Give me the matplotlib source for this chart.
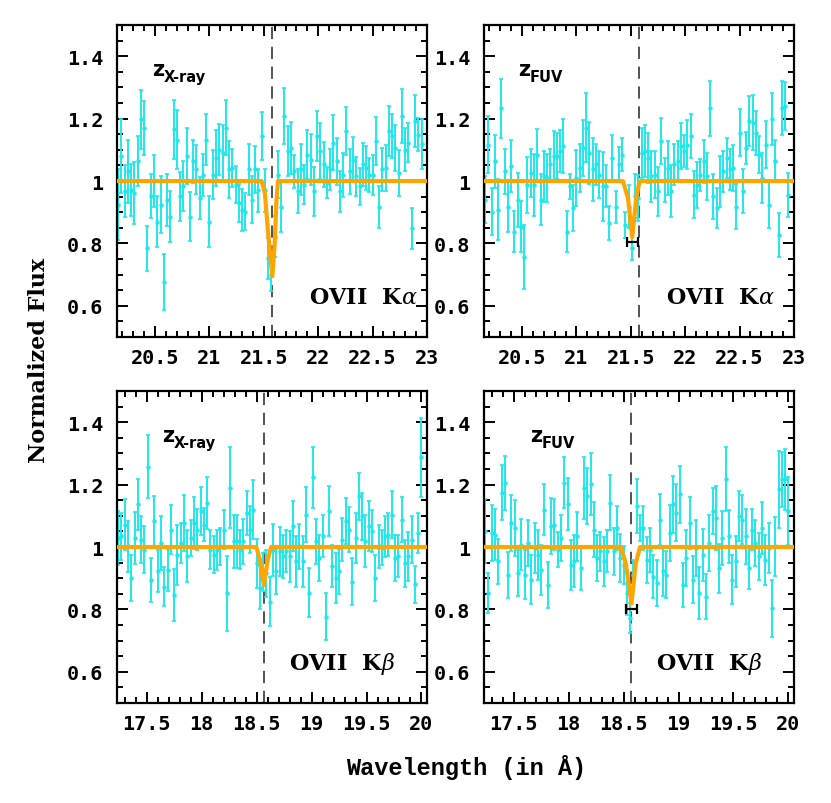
import matplotlib
matplotlib.use("Agg")
import matplotlib.pyplot as plt
from matplotlib.font_manager import FontProperties
from matplotlib.ticker import MultipleLocator, FuncFormatter

# --- data ------------------------------------------------------------------
wave_ka = [20.16, 20.19, 20.22, 20.25, 20.28, 20.31, 20.34, 20.37, 20.40, 20.43,
           20.46, 20.49, 20.52, 20.55, 20.58, 20.61, 20.64, 20.67, 20.70, 20.73,
           20.76, 20.79, 20.82, 20.85, 20.88, 20.91, 20.94, 20.97, 21.00, 21.03,
           21.06, 21.09, 21.12, 21.15, 21.18, 21.21, 21.24, 21.27, 21.30, 21.33,
           21.36, 21.39, 21.42, 21.45, 21.48, 21.51, 21.54, 21.57, 21.60, 21.63,
           21.66, 21.69, 21.72, 21.75, 21.78, 21.81, 21.84, 21.87, 21.90, 21.93,
           21.96, 21.99, 22.02, 22.05, 22.08, 22.11, 22.14, 22.17, 22.20, 22.23,
           22.26, 22.29, 22.32, 22.35, 22.38, 22.41, 22.44, 22.47, 22.50, 22.53,
           22.56, 22.59, 22.62, 22.65, 22.68, 22.71, 22.74, 22.77, 22.80, 22.83,
           22.86, 22.89, 22.92, 22.95]

flux_ka_xray = [0.924, 1.080, 0.967, 1.031, 0.972, 0.961, 1.063, 1.198, 1.171, 0.784,
                0.951, 0.999, 0.870, 0.924, 0.676, 0.940, 0.886, 1.166, 1.133, 0.951,
                0.983, 1.080, 0.886, 1.063, 1.037, 0.945, 1.020, 1.133, 0.870, 1.020,
                1.074, 1.101, 1.090, 1.171, 1.037, 1.042, 0.988, 0.929, 0.908, 0.902,
                1.037, 0.940, 1.037, 0.970, 1.144, 0.970, 0.752, 0.698, 0.822, 1.020,
                0.918, 1.209, 1.096, 1.106, 1.031, 0.967, 1.037, 0.988, 1.085, 1.069,
                0.967, 1.144, 1.096, 1.053, 0.994, 1.037, 1.123, 1.063, 0.967, 1.020,
                1.160, 1.031, 1.069, 1.015, 0.983, 1.053, 1.042, 1.020, 1.020, 1.128,
                0.918, 1.037, 1.042, 1.160, 1.144, 1.106, 1.026, 1.209, 1.101, 1.123,
                0.848, 1.192, 1.149, 1.120]
err_ka_xray = [0.113, 0.118, 0.083, 0.100, 0.083, 0.099, 0.080, 0.094, 0.086, 0.073,
               0.070, 0.083, 0.081, 0.091, 0.091, 0.083, 0.081, 0.094, 0.094, 0.078,
               0.080, 0.091, 0.078, 0.070, 0.078, 0.067, 0.067, 0.083, 0.081, 0.078,
               0.089, 0.083, 0.090, 0.089, 0.091, 0.060, 0.060, 0.060, 0.067, 0.060,
               0.081, 0.075, 0.075, 0.070, 0.078, 0.070, 0.065, 0.050, 0.065, 0.075,
               0.081, 0.089, 0.081, 0.083, 0.054, 0.070, 0.081, 0.062, 0.078, 0.083,
               0.078, 0.081, 0.089, 0.073, 0.050, 0.067, 0.089, 0.075, 0.065, 0.070,
               0.078, 0.073, 0.073, 0.062, 0.059, 0.070, 0.070, 0.054, 0.065, 0.078,
               0.067, 0.070, 0.073, 0.081, 0.070, 0.075, 0.075, 0.086, 0.070, 0.062,
               0.065, 0.083, 0.054, 0.080]

flux_ka_fuv = [0.940, 1.117, 0.902, 1.063, 0.908, 1.233, 1.031, 0.918, 1.047, 0.838,
               0.940, 0.854, 0.757, 0.988, 1.026, 0.988, 1.085, 0.940, 1.015, 1.010,
               1.053, 1.080, 1.080, 1.096, 1.112, 0.838, 0.983, 0.913, 1.010, 1.042,
               1.106, 1.171, 1.090, 1.037, 1.053, 1.020, 0.983, 0.983, 0.865, 1.074,
               0.918, 1.053, 1.085, 0.859, 0.918, 0.784, 0.951, 0.945, 1.090, 1.096,
               1.074, 1.015, 1.020, 0.967, 1.128, 1.004, 1.042, 0.967, 1.053, 1.063,
               1.112, 1.096, 1.117, 1.144, 0.956, 0.988, 1.020, 1.063, 1.015, 1.233,
               0.951, 0.913, 0.999, 1.031, 1.074, 1.037, 1.042, 0.918, 1.155, 0.967,
               1.106, 1.192, 1.187, 1.155, 1.085, 1.010, 1.117, 0.924, 1.198, 1.063,
               0.827, 1.235, 1.241, 0.956]
err_ka_fuv = [0.075, 0.090, 0.075, 0.086, 0.097, 0.094, 0.073, 0.081, 0.083, 0.065,
              0.086, 0.081, 0.102, 0.089, 0.078, 0.099, 0.083, 0.081, 0.081, 0.078,
              0.050, 0.081, 0.073, 0.067, 0.086, 0.065, 0.040, 0.073, 0.090, 0.078,
              0.091, 0.110, 0.100, 0.100, 0.065, 0.075, 0.110, 0.067, 0.054, 0.075,
              0.051, 0.056, 0.054, 0.043, 0.070, 0.038, 0.070, 0.073, 0.081, 0.083,
              0.081, 0.081, 0.075, 0.078, 0.075, 0.070, 0.086, 0.083, 0.065, 0.065,
              0.073, 0.051, 0.078, 0.070, 0.075, 0.073, 0.051, 0.070, 0.075, 0.089,
              0.073, 0.065, 0.081, 0.065, 0.065, 0.067, 0.073, 0.073, 0.075, 0.070,
              0.050, 0.081, 0.089, 0.070, 0.060, 0.081, 0.075, 0.073, 0.083, 0.067,
              0.070, 0.086, 0.078, 0.070]

wave_kb = [17.24, 17.27, 17.30, 17.33, 17.36, 17.39, 17.42, 17.45, 17.48, 17.51,
           17.54, 17.57, 17.60, 17.63, 17.66, 17.69, 17.72, 17.75, 17.78, 17.81,
           17.84, 17.87, 17.90, 17.93, 17.96, 17.99, 18.02, 18.05, 18.08, 18.11,
           18.14, 18.17, 18.20, 18.23, 18.26, 18.29, 18.32, 18.35, 18.38, 18.41,
           18.44, 18.47, 18.50, 18.53, 18.56, 18.59, 18.62, 18.65, 18.68, 18.71,
           18.74, 18.77, 18.80, 18.83, 18.86, 18.89, 18.92, 18.95, 18.98, 19.01,
           19.04, 19.07, 19.10, 19.13, 19.16, 19.19, 19.22, 19.25, 19.28, 19.31,
           19.34, 19.37, 19.40, 19.43, 19.46, 19.49, 19.52, 19.55, 19.58, 19.61,
           19.64, 19.67, 19.70, 19.73, 19.76, 19.79, 19.82, 19.85, 19.88, 19.91,
           19.94, 19.97, 20.00]

flux_kb_xray = [1.029, 1.034, 1.072, 1.002, 0.900, 1.029, 1.137, 1.024, 0.991, 1.258,
                0.895, 1.083, 0.922, 1.013, 0.873, 0.927, 1.056, 0.846, 0.975, 1.013,
                1.077, 0.970, 1.029, 1.077, 1.056, 1.115, 1.072, 1.142, 0.991, 0.975,
                0.991, 1.002, 1.056, 0.852, 1.190, 1.018, 1.018, 0.991, 1.018, 1.110,
                1.056, 1.120, 0.948, 0.870, 0.920, 0.916, 0.825, 0.991, 0.922, 0.986,
                0.970, 0.986, 0.970, 1.067, 0.954, 1.002, 0.954, 1.104, 0.854, 1.223,
                1.018, 0.965, 1.034, 0.776, 1.115, 0.938, 0.900, 0.922, 1.024, 1.083,
                1.056, 0.889, 1.029, 1.163, 1.099, 1.018, 1.067, 1.051, 0.900, 1.002,
                0.997, 1.034, 1.040, 1.104, 0.965, 0.970, 1.088, 0.948, 0.970, 1.024,
                0.880, 1.045, 1.287]
err_kb_xray = [0.086, 0.075, 0.081, 0.081, 0.073, 0.083, 0.081, 0.075, 0.075, 0.102,
               0.070, 0.081, 0.067, 0.086, 0.062, 0.067, 0.078, 0.083, 0.097, 0.065,
               0.089, 0.083, 0.059, 0.083, 0.065, 0.078, 0.054, 0.083, 0.062, 0.059,
               0.065, 0.059, 0.062, 0.120, 0.130, 0.086, 0.086, 0.062, 0.073, 0.070,
               0.075, 0.095, 0.078, 0.070, 0.060, 0.075, 0.078, 0.083, 0.073, 0.078,
               0.070, 0.067, 0.081, 0.081, 0.081, 0.073, 0.081, 0.089, 0.078, 0.097,
               0.073, 0.073, 0.067, 0.075, 0.081, 0.067, 0.081, 0.073, 0.070, 0.073,
               0.073, 0.075, 0.081, 0.075, 0.075, 0.083, 0.081, 0.067, 0.073, 0.070,
               0.056, 0.065, 0.070, 0.075, 0.075, 0.067, 0.073, 0.075, 0.078, 0.075,
               0.060, 0.065, 0.127]

flux_kb_fuv = [1.051, 0.852, 1.045, 1.040, 0.954, 1.174, 1.206, 0.911, 1.077, 1.061,
               0.916, 1.008, 0.911, 1.013, 0.895, 0.997, 0.975, 0.927, 1.120, 0.878,
               1.067, 1.072, 0.991, 1.029, 1.206, 1.137, 0.943, 0.954, 1.034, 0.932,
               1.190, 1.163, 1.201, 1.056, 0.965, 0.986, 0.954, 0.986, 1.142, 0.986,
               1.061, 0.965, 0.943, 0.852, 0.771, 0.911, 1.131, 1.061, 1.061, 0.959,
               0.991, 0.905, 0.884, 1.088, 0.922, 0.911, 1.045, 1.137, 1.110, 1.169,
               0.878, 0.965, 1.077, 0.895, 0.997, 0.852, 0.975, 0.841, 1.013, 1.115,
               1.094, 0.932, 1.029, 1.217, 1.034, 0.895, 0.954, 1.099, 1.088, 1.034,
               0.932, 1.056, 1.013, 0.970, 1.061, 0.959, 0.997, 0.803, 1.002, 1.185,
               1.217, 1.217, 1.115]
err_kb_fuv = [0.102, 0.065, 0.089, 0.081, 0.073, 0.089, 0.086, 0.073, 0.091, 0.089,
              0.073, 0.081, 0.078, 0.075, 0.078, 0.081, 0.080, 0.081, 0.083, 0.073,
              0.090, 0.081, 0.056, 0.073, 0.081, 0.083, 0.081, 0.083, 0.078, 0.070,
              0.100, 0.090, 0.100, 0.089, 0.075, 0.062, 0.078, 0.067, 0.089, 0.075,
              0.070, 0.078, 0.060, 0.070, 0.048, 0.046, 0.086, 0.043, 0.070, 0.073,
              0.070, 0.070, 0.073, 0.081, 0.078, 0.075, 0.091, 0.091, 0.091, 0.091,
              0.070, 0.091, 0.083, 0.075, 0.091, 0.083, 0.083, 0.073, 0.089, 0.073,
              0.102, 0.078, 0.086, 0.102, 0.086, 0.078, 0.081, 0.081, 0.078, 0.089,
              0.067, 0.065, 0.075, 0.075, 0.083, 0.081, 0.081, 0.091, 0.094, 0.124,
              0.089, 0.097, 0.110]

# best-fit absorption models (vertices of the orange curve)
model_ka_xray_w = [20.15, 21.48, 21.51, 21.54, 21.578, 21.60, 21.615, 21.63, 23.0]
model_ka_xray_f = [1.0, 1.0, 0.96, 0.83, 0.695, 0.80, 0.93, 1.0, 1.0]
model_ka_fuv_w = [20.15, 21.428, 21.474, 21.513, 21.55, 21.575, 21.59, 23.0]
model_ka_fuv_f = [1.0, 1.0, 0.945, 0.82, 0.945, 0.99, 1.0, 1.0]
model_kb_xray_w = [17.23, 18.497, 18.53, 18.566, 18.602, 18.632, 20.05]
model_kb_xray_f = [1.0, 1.0, 0.96, 0.878, 0.96, 1.0, 1.0]
model_kb_fuv_w = [17.23, 18.475, 18.52, 18.572, 18.611, 18.65, 20.05]
model_kb_fuv_f = [1.0, 1.0, 0.948, 0.819, 0.948, 1.0, 1.0]

line_ka = 21.578
line_kb = 18.565
# FUV line position with its uncertainty (horizontal bar): centre, half width, height
fuv_ka = (21.516, 0.049, 0.805)
fuv_kb = (18.570, 0.050, 0.80)

panels = [
    # axes rect, xlim, wave, flux, err, model w, model f, line, fuv bar, label, z label, label x, z x
    ([0.1408, 0.5796, 0.373, 0.388], (20.15, 23.0), wave_ka, flux_ka_xray, err_ka_xray,
     model_ka_xray_w, model_ka_xray_f, line_ka, None, r"OVII  K$\alpha$", "X-ray", 0.971, 0.113),
    ([0.5824, 0.5796, 0.373, 0.388], (20.15, 23.0), wave_ka, flux_ka_fuv, err_ka_fuv,
     model_ka_fuv_w, model_ka_fuv_f, line_ka, fuv_ka, r"OVII  K$\alpha$", "FUV", 0.939, 0.11),
    ([0.1408, 0.1244, 0.373, 0.388], (17.23, 20.05), wave_kb, flux_kb_xray, err_kb_xray,
     model_kb_xray_w, model_kb_xray_f, line_kb, None, r"OVII  K$\beta$", "X-ray", 0.897, 0.145),
    ([0.5824, 0.1244, 0.373, 0.388], (17.23, 20.05), wave_kb, flux_kb_fuv, err_kb_fuv,
     model_kb_fuv_w, model_kb_fuv_f, line_kb, fuv_kb, r"OVII  K$\beta$", "FUV", 0.897, 0.148),
]

cyan = "#1fe8ec"
orange = "#ffa500"
tick_font = FontProperties(family="DejaVu Sans Mono", weight="bold", size=14.5)

fig = plt.figure(figsize=(8.31, 8.04), dpi=100)

for rect, xlim, w, f, e, mw, mf, line, fuv, lab, zlab, labx, zx in panels:
    ax = fig.add_axes(rect)
    ax.errorbar(w, f, yerr=e, fmt="o", ms=2.2, color=cyan, ecolor=cyan,
                elinewidth=1.4, capsize=1.6, capthick=1.2, zorder=2)
    ax.plot(mw, mf, color=orange, lw=3, zorder=3, solid_joinstyle="round")
    ax.axvline(line, color="#222222", lw=1.1, ls=(0, (8, 5)), zorder=1)
    if fuv is not None:
        ax.errorbar([fuv[0]], [fuv[2]], xerr=[fuv[1]], fmt="none", ecolor="black",
                    elinewidth=1.6, capsize=3.5, capthick=1.6, zorder=4)
    ax.set_xlim(*xlim)
    ax.set_ylim(0.5, 1.5)
    ax.xaxis.set_major_locator(MultipleLocator(0.5))
    ax.xaxis.set_minor_locator(MultipleLocator(0.1))
    ax.yaxis.set_major_locator(MultipleLocator(0.2))
    ax.yaxis.set_minor_locator(MultipleLocator(0.05))
    ax.yaxis.set_major_formatter(FuncFormatter(lambda v, p: "%g" % round(v, 3)))
    ax.xaxis.set_major_formatter(FuncFormatter(lambda v, p: "%g" % round(v, 3)))
    ax.tick_params(which="both", direction="in", top=True, right=True, width=1.4)
    ax.tick_params(which="major", length=8)
    ax.tick_params(which="minor", length=4)
    ax.tick_params(axis="x", which="major", pad=8)
    ax.tick_params(axis="y", which="major", pad=10)
    for t in ax.get_xticklabels() + ax.get_yticklabels():
        t.set_fontproperties(tick_font)
    for s in ax.spines.values():
        s.set_linewidth(1.6)
    ax.text(labx, 0.128, lab, transform=ax.transAxes, ha="right", va="center",
            fontsize=16, family="DejaVu Serif", weight="bold",
            math_fontfamily="dejavuserif")
    ax.text(zx, 0.86, "z", transform=ax.transAxes, ha="left", va="center",
            fontsize=15, family="DejaVu Sans", weight="bold")
    ax.text(zx + 0.038, 0.835, zlab, transform=ax.transAxes, ha="left", va="center",
            fontsize=10.5, family="DejaVu Sans", weight="bold")

fig.text(0.047, 0.552, "Normalized Flux", rotation=90, ha="center", va="center",
         fontsize=16, family="DejaVu Serif", weight="bold")
fig.text(0.561, 0.045, "Wavelength (in Å)", ha="center", va="center",
         fontsize=17, family="Liberation Mono", weight="bold")

fig.savefig("out.png", dpi=100)
